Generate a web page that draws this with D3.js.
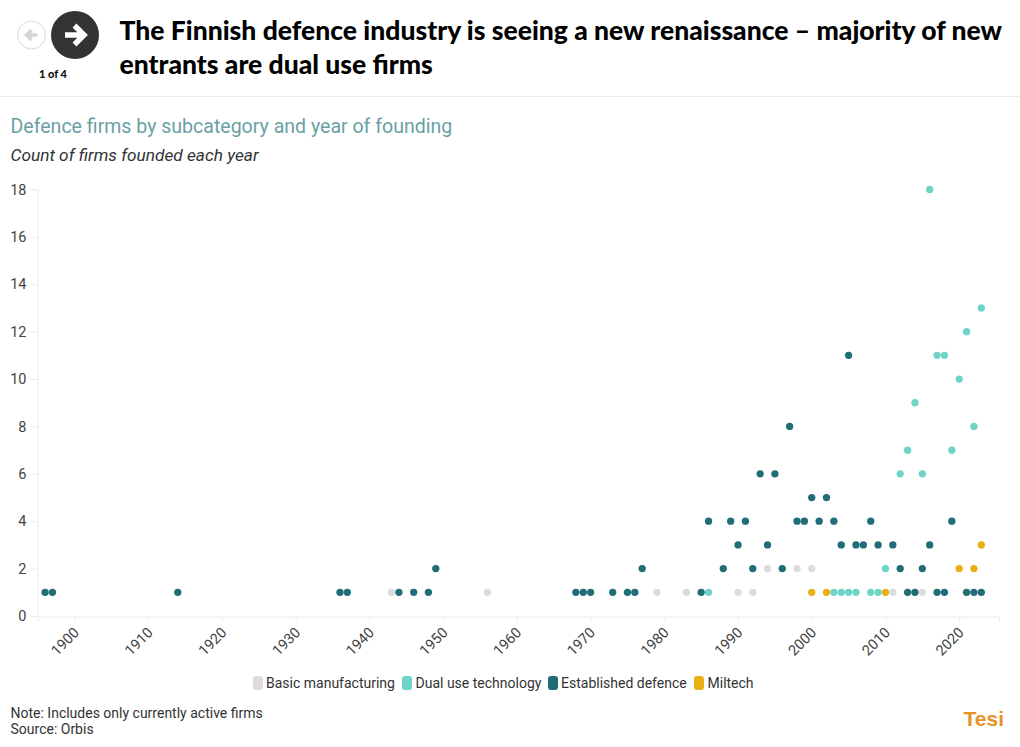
<!DOCTYPE html>
<html><head><meta charset="utf-8">
<script src="https://cdn.jsdelivr.net/npm/d3@7/dist/d3.min.js"></script>
<style>html,body{margin:0;padding:0;background:#fff}svg{display:block}text{font-family:Roboto,sans-serif}</style>
</head><body><svg id="c" width="1020" height="747"></svg>
<script>
const seriesNames = ["Basic manufacturing","Dual use technology","Established defence","Miltech"];
const seriesColors = ["#dcdcdc","#6fd4c8","#206d78","#e9b015"];
const basicYears = [1943,1956,1979,1983,1990,1992,1994,1998,2000,2011,2015];
const basicCounts = [1,1,1,1,1,1,2,2,2,1,1];
const dualYears = [1986,2003,2004,2005,2006,2008,2009,2010,2012,2013,2014,2015,2016,2017,2018,2019,2020,2021,2022,2023];
const dualCounts = [1,1,1,1,1,1,1,2,6,7,9,6,18,11,11,7,10,12,8,13];
const estYears = [1896,1897,1914,1936,1937,1944,1946,1948,1949,1968,1969,1970,1973,1975,1976,1977,1985,1986,1988,1989,1990,1991,1992,1993,1994,1995,1996,1997,1998,1999,2000,2001,2002,2003,2004,2005,2006,2007,2008,2009,2011,2012,2013,2014,2015,2016,2017,2018,2019,2021,2022,2023];
const estCounts = [1,1,1,1,1,1,1,1,2,1,1,1,1,1,1,2,1,4,2,4,3,4,2,6,3,6,2,8,4,4,5,4,5,4,3,11,3,3,4,3,3,2,1,1,2,3,1,1,4,1,1,1];
const milYears = [2000,2002,2010,2020,2022,2023];
const milCounts = [1,1,1,2,2,3];
const yTicks = [0,2,4,6,8,10,12,14,16,18];
const xTicks = [1900,1910,1920,1930,1940,1950,1960,1970,1980,1990,2000,2010,2020];
const titleLines = ["The Finnish defence industry is seeing a new renaissance – majority of new","entrants are dual use firms"];

const svg = d3.select("#c");
const x = d3.scaleLinear().domain([1895,2025.4]).range([37.7,999]);
const y = d3.scaleLinear().domain([0,18]).range([616,189.5]);

// header
svg.append("line").attr("x1",0).attr("x2",1020).attr("y1",96.5).attr("y2",96.5).attr("stroke","#ececec");
titleLines.forEach((t,i)=>svg.append("text").text(t).attr("x",119.5).attr("y",40+i*34)
  .style("font-family","Lato").style("font-weight",900).style("font-size","26.5px").attr("fill","#000"));
svg.append("circle").attr("cx",31.5).attr("cy",35).attr("r",14).attr("fill","#fff").attr("stroke","#d8d8d8");
svg.append("path").attr("d","M37.5 35H27M31.5 30l-5 5 5 5").attr("fill","none").attr("stroke","#d4d4d4").attr("stroke-width",3.5);
svg.append("circle").attr("cx",75).attr("cy",35).attr("r",24).attr("fill","#333");
svg.append("path").attr("d","M65 35H83M74.5 25.5l9.5 9.5-9.5 9.5").attr("fill","none").attr("stroke","#fff").attr("stroke-width",5.5);
svg.append("text").text("1 of 4").attr("x",53).attr("y",78).attr("text-anchor","middle")
  .style("font-family","Lato").style("font-weight",900).style("font-size","11px").attr("fill","#111");

svg.append("text").text("Defence firms by subcategory and year of founding").attr("x",10.5).attr("y",133)
  .style("font-size","19.55px").attr("fill","#6a9fa5");
svg.append("text").text("Count of firms founded each year").attr("x",10.5).attr("y",161)
  .style("font-size","17.25px").style("font-style","italic").attr("fill","#333");

// axes
const gy = svg.append("g").attr("transform","translate(37.5,0)")
  .call(d3.axisLeft(y).tickValues(yTicks).tickSize(7).tickPadding(4).tickFormat(d3.format("d")));
const gx = svg.append("g").attr("transform","translate(0,616.5)")
  .call(d3.axisBottom(x).tickValues(xTicks).tickSizeOuter(0).tickSize(5).tickFormat(d3.format("d")));
[gx,gy].forEach(g=>{g.selectAll(".domain").attr("stroke","#ececec");g.selectAll(".tick line").attr("stroke","#ececec");
  g.selectAll("text").style("font-size","14.5px").style("font-family","Roboto").attr("fill","#444");});
gx.selectAll("text").attr("text-anchor","end").attr("dy",0).attr("y",0)
  .attr("transform","translate(5,17) rotate(-45)");

// points
const data = [[basicYears,basicCounts],[dualYears,dualCounts],[estYears,estCounts],[milYears,milCounts]];
data.forEach(([ys,cs],i)=>{
  svg.append("g").selectAll("circle").data(ys.map((v,j)=>[v,cs[j]])).join("circle")
    .attr("cx",d=>x(d[0])).attr("cy",d=>y(d[1])).attr("r",3.65).attr("fill",seriesColors[i]);
});

// legend
const legendText=[266,415.5,561,707.5], legendSwatch=[253,402,548,694];
seriesNames.forEach((n,i)=>{
  svg.append("rect").attr("x",legendSwatch[i]).attr("y",676).attr("width",10).attr("height",14).attr("rx",3).attr("fill",seriesColors[i]);
  svg.append("text").text(n).attr("x",legendText[i]).attr("y",688).style("font-size","14px").attr("fill","#333");
});

// footer
svg.append("text").text("Note: Includes only currently active firms").attr("x",10.5).attr("y",718).style("font-size","14px").attr("fill","#333");
svg.append("text").text("Source: Orbis").attr("x",10.5).attr("y",734).style("font-size","14px").attr("fill","#333");
svg.append("text").text("Tesi").attr("x",1004).attr("y",726).attr("text-anchor","end")
  .style("font-family","'Liberation Sans'").style("font-weight",700).style("font-size","21px").attr("fill","#e8922c");
</script></body></html>
